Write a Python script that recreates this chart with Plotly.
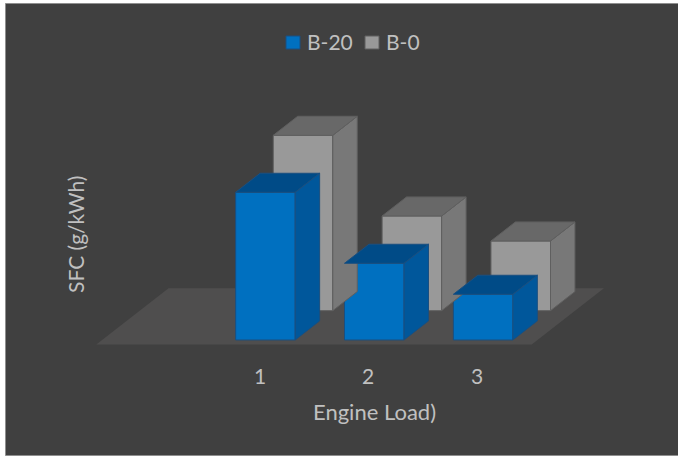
import plotly.graph_objects as go

# ---------------- data ----------------
categories = ["1", "2", "3"]
series_names = ["B-20", "B-0"]
b20_values = [443, 230, 137]
b0_values = [526, 284, 209]
x_title = "Engine Load)"
y_title = "SFC (g/kWh)"

# ---------------- layout / projection settings ----------------
W, H = 678, 457
PX_PER_CAT = 108.85          # horizontal pixels per category step
PX_PER_VAL = 1 / 3           # vertical pixels per value unit
X0_PX, Y0_PX = 150.75, 344.5  # pixel of (category 0, value 0) at floor front
ROW_DX_PX, ROW_DY_PX = 37.6, 29.3  # screen shift for one depth row
DEPTH_DX = ROW_DX_PX / PX_PER_CAT
DEPTH_DY = ROW_DY_PX / PX_PER_VAL
BAR_W = 0.547
BAR_DEPTH = 0.65
FLOOR_X = (-0.5, 3.5)
FLOOR_DEPTH = 1.92

FONT = "Lato"
TXT = "#c0c0c0"
FS = 21

styles = {
    "B-20": dict(front="#0070c0", side="#00579b", top="#004b87", line="#1a4f80", row=0.155),
    "B-0": dict(front="#999999", side="#787878", top="#686868", line="#5f5f5f", row=1.155),
}

x_range = [-X0_PX / PX_PER_CAT, (W - X0_PX) / PX_PER_CAT]
y_range = [-(H - Y0_PX) / PX_PER_VAL, Y0_PX / PX_PER_VAL]

fig = go.Figure()

def add_series(name, values):
    st = styles[name]
    d = st["row"]
    base = d * DEPTH_DY
    xs = [i + 1 + d * DEPTH_DX for i in range(len(values))]
    fig.add_trace(go.Bar(
        x=xs, y=values, base=base, width=BAR_W, name=name,
        marker=dict(color=st["front"], line=dict(color=st["line"], width=1)),
        showlegend=False, hoverinfo="skip",
    ))
    ddx, ddy = BAR_DEPTH * DEPTH_DX, BAR_DEPTH * DEPTH_DY
    for xc, v in zip(xs, values):
        xl, xr = xc - BAR_W / 2, xc + BAR_W / 2
        top = base + v
        # side face
        fig.add_trace(go.Scatter(
            x=[xr, xr, xr + ddx, xr + ddx, xr],
            y=[base, top, top + ddy, base + ddy, base],
            mode="lines", fill="toself", fillcolor=st["side"],
            line=dict(color=st["line"], width=1),
            showlegend=False, hoverinfo="skip",
        ))
        # top face
        fig.add_trace(go.Scatter(
            x=[xl, xr, xr + ddx, xl + ddx, xl],
            y=[top, top, top + ddy, top + ddy, top],
            mode="lines", fill="toself", fillcolor=st["top"],
            line=dict(color=st["line"], width=1),
            showlegend=False, hoverinfo="skip",
        ))

# back row first, then front row
add_series("B-0", b0_values)
add_series("B-20", b20_values)

shapes = []
# chart frame
shapes.append(dict(type="rect", xref="paper", yref="paper",
                   x0=5.5 / W, x1=1.02, y0=1 - 455.5 / H, y1=1 - 3.5 / H,
                   fillcolor="#404040", line=dict(color="#8f8f8f", width=1), layer="below"))
# floor
fx0, fx1 = FLOOR_X
fdx, fdy = FLOOR_DEPTH * DEPTH_DX, FLOOR_DEPTH * DEPTH_DY
shapes.append(dict(type="path", xref="x", yref="y",
                   path=f"M {fx0},0 L {fx1},0 L {fx1 + fdx},{fdy} L {fx0 + fdx},{fdy} Z",
                   fillcolor="#4f4e4e", line=dict(width=0), layer="below"))

annotations = []
# category labels
label_y = (Y0_PX - 375) / PX_PER_VAL
for i, c in enumerate(categories):
    annotations.append(dict(x=i + 1, y=label_y, xref="x", yref="y", text=c,
                            showarrow=False, xanchor="center", yanchor="middle",
                            font=dict(family=FONT, size=FS, color=TXT)))
# axis titles
annotations.append(dict(x=374 / W, y=1 - 411 / H, xref="paper", yref="paper", text=x_title,
                        showarrow=False, xanchor="center", yanchor="middle",
                        font=dict(family=FONT, size=22, color=TXT)))
annotations.append(dict(x=75 / W, y=1 - 235 / H, xref="paper", yref="paper", text=y_title,
                        textangle=-90, showarrow=False, xanchor="center", yanchor="middle",
                        font=dict(family=FONT, size=FS, color=TXT)))
# legend
legend_pos = {"B-20": (286, 305), "B-0": (365, 384)}
for name in series_names:
    sx, tx = legend_pos[name]
    st = styles[name]
    shapes.append(dict(type="rect", xref="paper", yref="paper",
                       x0=sx / W, x1=(sx + 14) / W, y0=1 - 49 / H, y1=1 - 36 / H,
                       fillcolor=st["front"], line=dict(color=st["line"], width=1)))
    annotations.append(dict(x=tx / W, y=1 - 42 / H, xref="paper", yref="paper", text=name,
                            showarrow=False, xanchor="left", yanchor="middle",
                            font=dict(family=FONT, size=FS, color=TXT)))

fig.update_layout(
    width=W, height=H, margin=dict(l=0, r=0, t=0, b=0),
    paper_bgcolor="white", plot_bgcolor="rgba(0,0,0,0)",
    barmode="overlay", showlegend=False,
    xaxis=dict(range=x_range, visible=False, fixedrange=True),
    yaxis=dict(range=y_range, visible=False, fixedrange=True),
    shapes=shapes, annotations=annotations,
)

fig.write_html("out.html")
